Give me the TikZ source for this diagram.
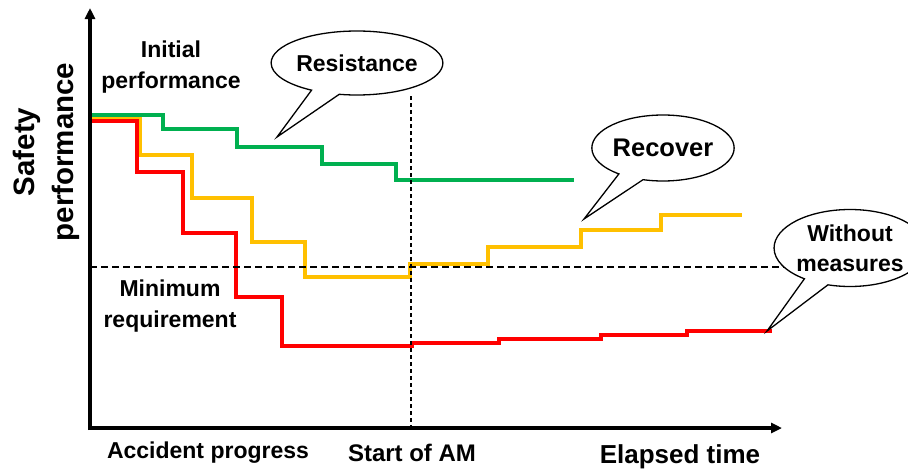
\documentclass[tikz,border=0pt]{standalone}
\usepackage{fontspec}
\setmainfont{Liberation Sans}
\usepackage{tikz}
\usetikzlibrary{
arrows.meta,
shapes.callouts
}
\definecolor{SPGreen}{HTML}{00B050}
\definecolor{SPYellow}{HTML}{FFC000}
\definecolor{SPRed}{HTML}{FF0000}
\tikzset{
spaxis/.style={line width=3.5pt, -{Triangle[length=11pt, width=10pt]}},
spguide/.style={line width=1.3pt, dash pattern=on 7pt off 4pt},
spguidev/.style={line width=1.3pt, dash pattern=on 4pt off 3pt},
spstep/.style={line width=4pt},
splabel/.style={font=\bfseries\fontsize{23}{31}\selectfont, align=center, inner sep=0pt},
spbubble/.style={ellipse callout, draw=black, fill=white, line width=1.3pt, inner sep=0pt,
  callout pointer arc=20, align=center, font=\bfseries\fontsize{23}{30}\selectfont}
}

\begin{document}
\begin{tikzpicture}[x=1pt, y=-1pt]
\useasboundingbox (0,0) rectangle (908,472);
\clip (0,0) rectangle (908,472);

\draw[spstep, SPYellow] (90,118) -- (140,118) -- (140,155) -- (192,155) -- (192,198) -- (252,198)
  -- (252,242) -- (305,242) -- (305,277) -- (410,277) -- (410,264) -- (488,264) -- (488,247)
  -- (581,247) -- (581,230) -- (661,230) -- (661,215) -- (742,215);
\draw[spstep, SPRed] (90,121) -- (137,121) -- (137,172) -- (183,172) -- (183,233) -- (236,233)
  -- (236,297) -- (282,297) -- (282,346) -- (412,346) -- (412,343) -- (499,343) -- (499,339)
  -- (601,339) -- (601,335) -- (687,335) -- (687,331) -- (772,331);
\draw[spstep, SPGreen] (90,115) -- (163,115) -- (163,129) -- (237,129) -- (237,147) -- (322,147)
  -- (322,164) -- (396,164) -- (396,180) -- (574,180);

\draw[spguide] (90,267) -- (908,267);
\draw[spguidev] (411,96) -- (411,428);

\draw[spaxis] (90,430) -- (90,8);
\draw[spaxis] (88,428) -- (782,428);

\node[splabel, rotate=90, font=\bfseries\fontsize{29.5}{39}\selectfont] (ylabel) at (46,152) {Safety\\performance};
\node[splabel] (initial) at (171,67) {Initial\\performance};
\node[splabel] (minimum) at (170,306) {Minimum\\requirement};
\node[splabel] (accident) at (208,453) {Accident progress};
\node[splabel, font=\bfseries\fontsize{24}{30}\selectfont] (startam) at (412,453) {Start of AM};
\node[splabel, font=\bfseries\fontsize{26}{30}\selectfont] (elapsed) at (680,457) {Elapsed time};

\node[spbubble, minimum width=138pt, minimum height=64pt,
  callout absolute pointer={(277,137)}] (resistance) at (357,63) {Resistance};
\node[spbubble, minimum width=140pt, minimum height=66pt, callout pointer arc=22,
  font=\bfseries\fontsize{25.5}{30}\selectfont,
  callout absolute pointer={(584,219)}] (recover) at (663,148) {Recover};
\node[spbubble, minimum width=148pt, minimum height=77pt,
  callout absolute pointer={(767,331)}] (without) at (850,248) {Without\\measures};
\end{tikzpicture}
\end{document}
